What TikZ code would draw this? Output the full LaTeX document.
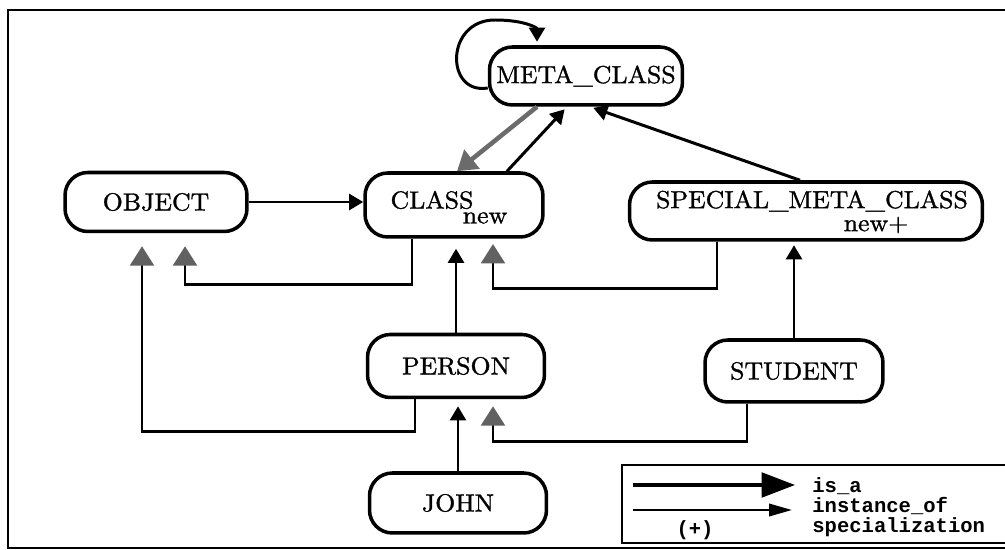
\documentclass[tikz,border=0pt]{standalone}
\usepackage{fontspec}
\newfontfamily\keyfont{Liberation Mono}
\newfontfamily\boxfont{lmroman10-regular.otf}[FakeBold=1.2, FakeStretch=1.05]
\usetikzlibrary{arrows.meta,calc}

\tikzset{
    obj/.style={draw, line width=2pt, rounded corners=13pt, inner sep=0pt,
        font=\boxfont\fontsize{14}{16}\selectfont},
    lbl/.style={inner sep=0pt, font=\boxfont\fontsize{14}{16}\selectfont},
    conn/.style={line width=1.7pt},
    inst/.style={conn, -{Triangle[length=8pt,width=9pt]}, shorten >=2pt},
    isa/.style={conn, -{Triangle[length=11pt,width=13.5pt,color=black!62]}, shorten >=4pt},
    key/.style={inner sep=0pt, font=\keyfont\bfseries\fontsize{11.7}{11.3}\selectfont},
}

\begin{document}
\begin{tikzpicture}[x=0.02cm, y=-0.02cm]
    \useasboundingbox (0,0) rectangle (1005,550);

    % frame
    \draw[line width=1.6pt] (1005,10) -- (8,10) -- (8,548) -- (1005,548);

    \node[obj, minimum width=3.86cm, minimum height=1.16cm] (meta)    at (586,76)  {META\_CLASS};
    \node[obj, minimum width=3.64cm, minimum height=1.18cm] (object)  at (156,202) {OBJECT};
    \node[obj, minimum width=3.56cm, minimum height=1.28cm] (class)   at (454,205) {};
    \node[obj, minimum width=7.06cm, minimum height=1.16cm] (smc)     at (806,211) {};
    \node[obj, minimum width=3.54cm, minimum height=1.26cm] (person)  at (456,366) {PERSON};
    \node[obj, minimum width=3.56cm, minimum height=1.24cm] (student) at (794,371) {STUDENT};
    \node[obj, minimum width=3.54cm, minimum height=1.20cm] (john)    at (458,503) {JOHN};

    \node[lbl] (classname) at (432,200) {CLASS};
    \node[lbl] (classnew)  at (485,218) {new};
    \node[lbl] (smcname)   at (812,201) {SPECIAL\_META\_CLASS};
    \node[lbl] (smcnew)    at (876,225) {new+};

    % meta level
    \draw[inst] ($(meta.west)+(0,12)$) .. controls (445,95) and (445,20) .. (495,20)
        .. controls (525,20) and (537,28) .. ($(meta.north)+(-49,0)$);
    \draw[line width=2.6pt, black!58, -{Triangle[length=11pt,width=13.5pt]}]
        ($(meta.south)+(-49,0)$) -- ($(class.north)+(3,0)$);
    \draw[inst] ($(class.north)+(53,0)$) -- ($(meta.south)+(-19,0)$);
    \draw[inst] ($(smc.north)+(-6,0)$) -- ($(meta.south)+(4,0)$);

    % classes
    \draw[inst, shorten >=0pt] (object.east) -- (object.east-|class.west);
    \draw[isa, shorten >=7.4pt] ($(class.south)+(-42,0)$) -- ++(0,46) -| ($(object.south)+(29,0)$);
    \draw[isa, shorten >=3pt] ($(smc.south)+(-89,0)$) -- ++(0,47) -| ($(class.south)+(39,0)$);
    \draw[inst, shorten >=5.7pt] (person.north) -- (person.north|-class.south);
    \draw[inst] (student.north) -- (student.north|-smc.south);
    \draw[isa, shorten >=7.4pt] ($(person.south)+(-41,0)$) -- ++(0,32) -| ($(object.south)+(-14,0)$);
    \draw[inst, shorten >=4pt] (john.north) -- (john.north|-person.south);
    \draw[isa, shorten >=4pt] ($(student.south)+(-47,0)$) -- ++(0,38) -| ($(person.south)+(37,0)$);

    % key
    \draw[line width=1.4pt] (622,465) rectangle (1015,543);
    \coordinate (k1a) at (633,485);
    \coordinate (k1b) at (795,485);
    \coordinate (k2a) at (633,510);
    \coordinate (k2b) at (792,510);
    \draw[line width=2pt, -{Triangle[length=19pt,width=14pt]}] (k1a) -- (k1b);
    \draw[line width=1.4pt, -{Triangle[length=13pt,width=7pt]}] (k2a) -- (k2b);
    \node[key] (plus) at (695,530) {(+)};
    \node[key, anchor=west, align=left] (keytext) at (812,507) {is\_a\\instance\_of\\specialization};
\end{tikzpicture}
\end{document}
